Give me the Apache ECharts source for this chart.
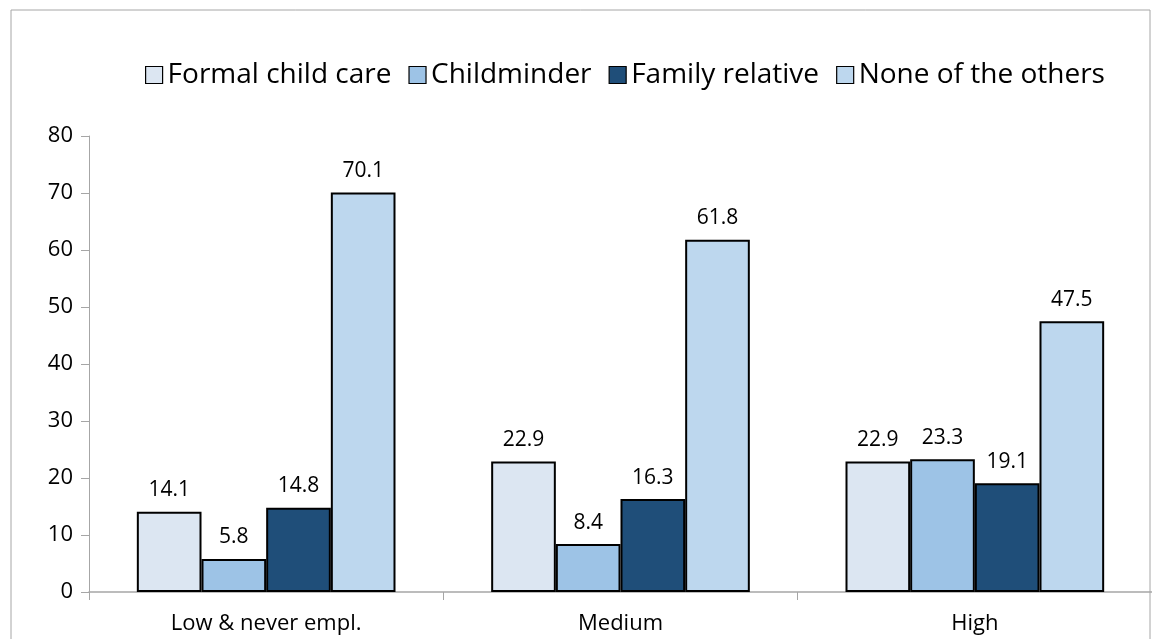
<!DOCTYPE html>
<html>
<head>
<meta charset="utf-8">
<script src="https://cdn.jsdelivr.net/npm/echarts@6/dist/echarts.min.js"></script>
<style>
  html, body { margin: 0; padding: 0; background: #fff; }
  #main { width: 1152px; height: 639px; }
</style>
</head>
<body>
<div id="main"></div>
<script>
// categories and series
const categories = ["Low & never empl.", "Medium", "High"];
const formalCare = [14.1, 22.9, 22.9];
const childminder = [5.8, 8.4, 23.3];
const familyRelative = [14.8, 16.3, 19.1];
const noneOthers = [70.1, 61.8, 47.5];
const yTicks = [0, 10, 20, 30, 40, 50, 60, 70, 80];

const font = "'Open Sans', 'Noto Sans', sans-serif";

let myChart = echarts.init(document.getElementById("main"));

function barSeries(name, data, color) {
  return {
    name: name,
    type: "bar",
    data: data,
    barGap: "0%",
    barCategoryGap: "27%",
    itemStyle: { color: color, borderColor: "#000", borderWidth: 2 },
    label: {
      show: true,
      position: "top",
      distance: 11,
      fontFamily: font,
      fontSize: 21,
      color: "#000",
      formatter: (p) => p.value.toFixed(1),
    },
  };
}

let option = {
  animation: false,
  backgroundColor: "#fff",
  graphic: [
    {
      type: "rect",
      shape: { x: 11, y: 10, width: 1139, height: 640 },
      style: { fill: "none", stroke: "#a6a6a6", lineWidth: 1 },
      z: -1,
    },
  ],
  legend: {
    top: 56,
    left: 140,
    itemWidth: 17,
    itemHeight: 17,
    itemGap: 17,
    icon: "rect",
    textStyle: { fontFamily: font, fontSize: 28, color: "#000" },
    itemStyle: { borderColor: "#000", borderWidth: 1.2 },
    data: ["Formal child care", "Childminder", "Family relative", "None of the others"],
  },
  grid: { left: 89, right: -5, top: 136, bottom: 47 },
  xAxis: {
    type: "category",
    data: categories,
    axisLine: { lineStyle: { color: "#a6a6a6", width: 1.5 } },
    axisTick: { show: true, length: 8, lineStyle: { color: "#a6a6a6" } },
    axisLabel: { fontFamily: font, fontSize: 22, color: "#000", margin: 21 },
  },
  yAxis: {
    type: "value",
    min: 0,
    max: 80,
    interval: 10,
    axisLine: { show: true, lineStyle: { color: "#a6a6a6" } },
    axisTick: { show: true, length: 8, lineStyle: { color: "#a6a6a6" } },
    splitLine: { show: false },
    axisLabel: {
      fontFamily: font,
      fontSize: 22,
      color: "#000",
      margin: 16,
      formatter: (v) => (yTicks.includes(v) ? String(v) : ""),
    },
  },
  series: [
    barSeries("Formal child care", formalCare, "#dce6f2"),
    barSeries("Childminder", childminder, "#9dc3e6"),
    barSeries("Family relative", familyRelative, "#1f4e79"),
    barSeries("None of the others", noneOthers, "#bdd7ee"),
  ],
};

option && myChart.setOption(option);
</script>
</body>
</html>
